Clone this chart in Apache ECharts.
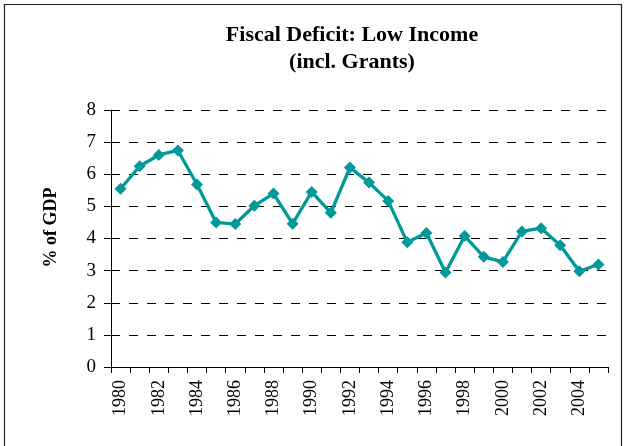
<!DOCTYPE html>
<html>
<head>
<meta charset="utf-8">
<script src="https://cdn.jsdelivr.net/npm/echarts@6/dist/echarts.min.js"></script>
<style>
  html, body { margin: 0; padding: 0; background: #fff; }
  #chart { width: 627px; height: 446px; }
</style>
</head>
<body>
<div id="chart"></div>
<script>
// Fiscal deficit (incl. grants) for low income countries, % of GDP
const years = ['1980','1981','1982','1983','1984','1985','1986','1987','1988','1989',
               '1990','1991','1992','1993','1994','1995','1996','1997','1998','1999',
               '2000','2001','2002','2003','2004','2005'];
const deficit = [5.55, 6.25, 6.6, 6.74, 5.68, 4.5, 4.45, 5.02, 5.4, 4.46,
                 5.45, 4.8, 6.21, 5.74, 5.17, 3.88, 4.17, 2.94, 4.08, 3.43,
                 3.27, 4.22, 4.32, 3.79, 2.98, 3.19];
const titleLines = ['Fiscal Deficit: Low Income', '(incl. Grants)'];
const yAxisName = '% of GDP';

const serif = '"Liberation Serif", "Times New Roman", serif';
const chart = echarts.init(document.getElementById('chart'));

chart.setOption({
  backgroundColor: '#fff',
  animation: false,
  graphic: [{
    type: 'rect',
    shape: { x: 4.5, y: 4.5, width: 617, height: 460 },
    style: { fill: 'none', stroke: '#222', lineWidth: 1.2 },
    silent: true
  }],
  title: {
    text: titleLines.join('\n'),
    left: 347,
    top: 17,
    textAlign: 'center',
    textStyle: {
      fontFamily: serif,
      fontWeight: 'bold',
      fontSize: 22,
      lineHeight: 27,
      color: '#000'
    }
  },
  grid: { left: 111, right: 19, top: 110, bottom: 79, containLabel: false },
  xAxis: {
    type: 'category',
    data: years,
    boundaryGap: true,
    axisLine: { show: true, lineStyle: { color: '#000', width: 1 } },
    axisTick: { show: true, interval: 0, length: 6, lineStyle: { color: '#000' } },
    axisLabel: {
      interval: 1,
      rotate: 90,
      margin: 13,
      fontFamily: serif,
      fontSize: 18,
      color: '#000'
    },
    splitLine: { show: false }
  },
  yAxis: {
    type: 'value',
    min: 0,
    max: 8,
    interval: 1,
    name: yAxisName,
    nameLocation: 'middle',
    nameGap: 51,
    nameTextStyle: {
      fontFamily: serif,
      fontWeight: 'bold',
      fontSize: 18,
      color: '#000',
      padding: [0, 0, 0, 22]
    },
    axisLine: { show: true, lineStyle: { color: '#000', width: 1 } },
    axisTick: { show: true, length: 7, lineStyle: { color: '#000' } },
    axisLabel: {
      margin: 15,
      fontFamily: serif,
      fontSize: 19,
      color: '#000'
    },
    splitLine: {
      show: true,
      lineStyle: { color: '#000', width: 1, type: [9, 9] }
    }
  },
  series: [{
    type: 'line',
    data: deficit,
    symbol: 'diamond',
    symbolSize: 12,
    showAllSymbol: true,
    lineStyle: { color: '#009999', width: 3.3 },
    itemStyle: { color: '#009999' }
  }]
});
</script>
</body>
</html>
